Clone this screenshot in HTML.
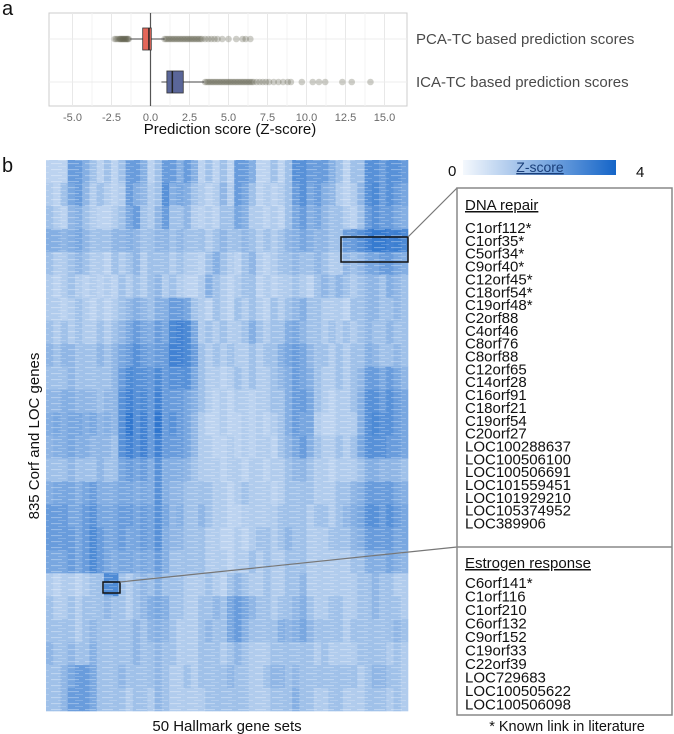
<!DOCTYPE html>
<html><head><meta charset="utf-8"><style>
html,body{margin:0;padding:0;background:#fff;}
svg{display:block;font-family:"Liberation Sans",Arial,sans-serif;}
</style></head><body>
<svg id="fig" width="674" height="734" viewBox="0 0 674 734">
<text x="2" y="15" font-size="20" fill="#111">a</text>
<g id="boxplot"></g>
<text x="2" y="172" font-size="20" fill="#111">b</text>
<g id="heat"></g>
<text x="227" y="731" font-size="15" text-anchor="middle" fill="#111">50 Hallmark gene sets</text>
<text transform="translate(39,436) rotate(-90)" font-size="15" text-anchor="middle" fill="#111">835 Corf and LOC genes</text>
<defs><linearGradient id="cb" x1="0" x2="1"><stop offset="0" stop-color="#f4f8fd"/><stop offset="1" stop-color="#1565c8"/></linearGradient></defs>
<g>
<rect x="463" y="160" width="153" height="15" fill="url(#cb)"/>
<text x="448" y="176" font-size="15" fill="#111">0</text>
<text x="636" y="177" font-size="15" fill="#111">4</text>
<text x="540" y="172" font-size="14" text-anchor="middle" fill="#1a3f7a" text-decoration="underline">Z-score</text>
</g>
<g>
<rect x="457" y="188" width="215" height="527" fill="#fff" stroke="#888" stroke-width="1.5"/>
<line x1="457" y1="547" x2="672" y2="547" stroke="#888" stroke-width="1.5"/>
<g id="lists" font-size="15" fill="#111"></g>
</g>
<text x="567" y="731" font-size="14.5" text-anchor="middle" fill="#111">* Known link in literature</text>
</svg>
<script>
const NS="http://www.w3.org/2000/svg";
function mk(t,a,p){const e=document.createElementNS(NS,t);for(const k in a)e.setAttribute(k,a[k]);p.appendChild(e);return e;}

// ---- Panel a data ----
const xTicks=[-5,-2.5,0,2.5,5,7.5,10,12.5,15];
const seriesNames=["PCA-TC based prediction scores","ICA-TC based prediction scores"];
const boxQ1=[-0.5,1.05];
const boxMed=[-0.1,1.4];
const boxQ3=[0.05,2.1];
const whiskLo=[-1.3,0.7];
const whiskHi=[0.9,3.45];
const pcaOutliers=[-2.3,-2.2,-2.1,-2.0,-1.95,-1.9,-1.85,-1.8,-1.75,-1.7,-1.65,-1.6,-1.55,-1.5,-1.45,-1.4,0.9,1.0,1.1,1.2,1.3,1.4,1.5,1.6,1.7,1.8,1.9,2.0,2.1,2.2,2.3,2.4,2.5,2.6,2.7,2.8,2.9,3.0,3.1,3.2,3.3,3.5,3.7,3.9,4.1,4.3,4.6,5.0,5.5,5.9,6.1,6.4];
const icaOutliers=[3.5,3.6,3.7,3.8,3.9,4.0,4.1,4.2,4.3,4.4,4.5,4.6,4.7,4.8,4.9,5.0,5.1,5.2,5.3,5.4,5.5,5.6,5.7,5.8,5.9,6.0,6.1,6.2,6.3,6.4,6.5,6.6,6.8,7.0,7.2,7.4,7.6,7.9,8.2,8.5,8.8,9.0,9.7,10.4,10.8,11.2,12.3,12.9,14.1];

const px={x0:49,x1:407,y0:13,y1:106};
const xs=v=>150.5+v*15.6;
const rowY=[39,82];
const boxH=[11,11];
const G=document.getElementById('boxplot');
const frame=mk('rect',{x:px.x0,y:px.y0,width:px.x1-px.x0,height:px.y1-px.y0,fill:'#fff',stroke:'#ccc','stroke-width':1},G);


xTicks.forEach((t,i)=>{
  if(i<xTicks.length-1){mk('line',{x1:xs(t+1.25),x2:xs(t+1.25),y1:px.y0,y2:px.y1,stroke:'#f3f3f3'},G);}
  const gl=mk('line',{x1:xs(t),x2:xs(t),y1:px.y0,y2:px.y1,stroke:'#e8e8e8'},G);
  
  
  const tl=mk('text',{x:xs(t),y:121,'font-size':11,'text-anchor':'middle',fill:'#6a6a6a'},G);
  tl.textContent=t.toFixed(1);
  
  
});
rowY.forEach(y=>mk('line',{x1:px.x0,x2:px.x1,y1:y,y2:y,stroke:'#ececec'},G));
const zl=mk('line',{x1:xs(0),x2:xs(0),y1:px.y0,y2:px.y1,stroke:'#555','stroke-width':1.2},G);


const outl=[pcaOutliers,icaOutliers];
const fills=['#e4675a','#5a6699'];
[0,1].forEach(i=>{
  const y=rowY[i];
  outl[i].forEach(v=>{
    const c=mk('circle',{cx:xs(v),cy:y,r:3.3,fill:'#5f5f4c','fill-opacity':0.3},G);
    
    
  });
  const w=mk('line',{x1:xs(whiskLo[i]),x2:xs(whiskHi[i]),y1:y,y2:y,stroke:'#444'},G);
  
  
  const b=mk('rect',{x:xs(boxQ1[i]),y:y-boxH[i],width:xs(boxQ3[i])-xs(boxQ1[i]),height:2*boxH[i],fill:fills[i],stroke:'#333','stroke-width':0.8},G);
  
  
  mk('line',{x1:xs(boxMed[i]),x2:xs(boxMed[i]),y1:y-boxH[i],y2:y+boxH[i],stroke:'#222','stroke-width':1.5},G);
  const lb=mk('text',{x:416,y:y+5,'font-size':15,fill:'#4a4a4a'},G);
  lb.textContent=seriesNames[i];
  
  
});
const at=mk('text',{x:230,y:134,'font-size':15,'text-anchor':'middle',fill:'#111'},G);
at.textContent='Prediction score (Z-score)';



// ---- Heatmap data (row bands x 50 gene sets, Z-score 0-4) ----
const heatRows=[
[1,1,1,2.5,2.5,2,1.5,1,1.5,1,1.5,2.5,2.5,2,1,1.5,2.5,2.5,2,2.5,2,1,1.5,1,1.5,1,2.5,2.5,2,1,1,1.5,1,1.5,2.8,2.8,2.5,2.5,2.5,2,1.5,1,1.5,1.5,2.8,2.8,2.5,2.8,2.8,2.5],
[1.2,1,1.5,2.2,2.5,1.8,1.2,1.5,1.2,1,1.2,2.5,2,1.8,1.2,1.5,2.8,2,2.2,2,1.5,1.2,1,1.2,1.8,1.2,2.5,2.2,1.5,1,1.2,1,1.2,1.5,2.5,2.8,2.2,2.5,2,1.8,1.2,1,1.2,1.8,2.8,3,2.5,2.8,2.5,2.2],
[1.5,1.2,1,1.8,2,1.5,1.2,1,1,1.2,1.5,2.2,2.5,1.5,1.2,1.8,2.5,1.5,1.5,1.8,1.2,1,1.2,1,1.5,1.5,2.2,2,1.2,1.2,1,1.2,1,1.5,2.2,2.5,2,2.2,1.8,1.5,1.5,1.2,1,1.5,2.5,2.8,2.5,2.5,2.2,2],
[2,2,1.8,2,2.2,1.8,1.5,1.5,1.5,1.8,1.8,2,1.8,1.5,1.5,1.8,1.8,1.5,1.8,1.5,1.5,1.5,1.2,1.5,1.8,1.5,1.5,1.8,1.5,1.2,1.5,1.2,1.5,1.8,2,2.2,2,1.8,1.8,1.5,1.5,2.5,2.5,2.8,3.2,3.4,3.4,3.2,3.3,3],
[1.5,1.2,1.2,1.5,1.8,1.5,1.2,1.2,1,1.5,1.2,1.5,1.8,1.2,1.5,1.5,1.5,1.2,1.5,1.2,1.2,1,1.5,2,1.5,1.2,1,1.5,1.8,1.2,1,1.2,1.5,1.5,1.8,1.5,1.5,1.8,1.5,1.2,1.2,1.8,1.5,1.8,2.2,2.2,2.5,2.5,2.2,2],
[1.2,1,1.2,1.5,1.2,1,1.2,1,1.2,1,1.5,1.2,1.5,1.2,1.5,1.8,1.2,1.5,1.2,1,1,1.2,2,1.5,1.2,1,1.2,1.5,1.5,1,1.2,1,1.2,1.2,1.5,1.2,1,1.5,1.8,1.5,1.8,1.5,1.2,1.5,1.8,1.8,1.5,2,1.8,1.5],
[1.2,1.2,1,1.2,1.5,1.2,1,1.2,1,1.2,1.5,1.8,2,1.8,1.5,2,2,2.5,2.5,2.2,1.5,1.2,1,1.5,1.2,1,1.5,1.2,1.5,1.2,1,1.5,1.2,1.5,1.8,2,1.5,1.5,1.2,1.2,1.2,1,1.5,1.5,1.8,1.8,1.5,1.5,1.8,1.5],
[1.5,1.2,1.5,1.2,1.5,1.2,1.2,1.5,1.2,1.5,1.8,2.2,2.5,2.2,2,2.5,2.2,3,3.2,3,2.2,1.2,1.5,1.2,1.5,1.2,1.2,1.5,2,1.5,1.2,1.5,1.5,2,2.2,1.8,1.5,1.5,1.2,1.5,1.2,1.5,1.2,1.5,1.8,1.5,1.5,1.8,1.5,1.5],
[1.8,1.5,1.8,1.8,1.5,1.5,1.5,1.8,1.5,1.8,2.2,2.5,2.8,2.5,2.2,2.5,2.5,3.2,3.2,3,2.5,1.5,1.2,1.5,1.2,1.5,1.2,1.2,1.5,1.2,1.5,1.5,2,2.2,2.5,2.2,1.8,1.5,1.5,1.2,1.5,1.2,1.5,1.5,2,1.8,1.5,1.5,1.8,1.5],
[1.5,1.5,1.5,1.8,1.5,1.5,1.5,1.5,1.5,1.8,2.5,3,2.8,2.8,2.5,3,2.5,2.8,2.8,2.8,2.2,1.5,1.2,1.2,1,1.2,1.5,1.2,1.5,1.2,1.2,1.5,1.8,2,2.5,2.2,2,1.5,1.2,1.2,1.5,1.2,1.5,1.8,2.5,2.5,2.2,2.5,2.2,1.8],
[1.8,1.8,2,2,1.8,1.8,1.8,1.5,1.8,1.8,2.8,3.2,2.8,3,2.5,3.2,2.5,2.5,2.5,2.2,2,1.5,1.2,1,1.2,1,1.2,1.2,1,1.2,1.2,1.5,1.5,2,2.5,2.5,2.2,1.5,1.2,1,1.2,1.2,1.5,2,2.8,2.8,2.5,2.8,2.5,2.2],
[2,2.2,2,2.2,2.2,2,2.2,1.8,2,1.8,2.8,3.5,2.8,3.2,2.5,3.5,2.5,2.8,2.5,2.2,1.8,1.2,1,1,1.2,1,1,1.2,1,1.2,1,1.2,1.5,2,2.5,2.2,2.2,1.2,1,1,1.2,1.2,1.2,2,2.8,3,2.8,2.8,2.5,2.2],
[1.8,2,2,2.2,2,2,1.8,1.8,1.8,1.5,2.8,3.2,2.8,3.2,2.5,3.2,2.5,2.5,2.5,2.2,1.8,1.2,1.2,1,1,1.2,1,1.2,1,1.2,1.2,1,1.5,1.8,2.2,2.5,2,1.5,1.2,1.2,1.5,1.2,1.5,2.2,2.8,2.8,2.8,2.5,2.5,2.2],
[1.5,1.5,1.5,1.8,1.5,1.5,1.5,1.8,1.5,1.5,2.2,2.5,2.2,2.5,2,2.8,2,2,2,1.8,1.5,1.2,1.2,1.2,1,1.2,1.2,1,1.2,1.2,1,1.2,1.2,1.5,1.8,1.8,1.5,1.2,1.2,1,1.2,1.2,1.2,1.5,2,2,1.8,1.8,1.8,1.5],
[2,2.2,2.2,2.2,2,2.2,2.5,2,2,2,2.2,2.2,2,2.2,2,2.8,2,1.8,1.8,1.5,1.5,1.5,1.5,1.2,1.2,1,1.2,1.5,1.2,1.2,1.2,1,1.2,1.5,1.5,1.5,1.5,1.2,1.2,1.2,1.5,1.5,1.8,2,2.5,2.5,2.5,2.5,2.2,2],
[2.5,2.5,2.5,2.2,2.2,2.5,2.8,2.2,2.2,2.2,2.5,2.5,2.2,2.5,2.2,2.8,2.2,1.8,2,1.5,1.5,1.8,1.5,1.2,1.2,1,1,1.2,1.2,1.2,1.2,1.2,1.5,1.5,1.5,1.5,1.2,1.5,1.5,1.2,1.5,1.8,2,2.2,2.8,2.8,2.5,2.8,2.5,2.2],
[2.5,2.5,2.5,2.5,2.2,2.5,3,2.5,2.2,2.2,2.5,2.2,2.2,2.5,2.2,2.8,2,1.8,1.8,1.5,1.5,1.5,1.2,1.2,1,1,1.2,1,1.2,1.5,1.5,1.2,1.5,1.8,1.5,1.5,1.2,1.2,1.2,1.5,1.5,1.5,1.8,2,2.5,2.5,2.5,2.5,2.2,2.2],
[2.2,2.2,2.2,2.5,2.2,2.5,3,2.5,2.2,2,2.2,2.2,2,2.2,2,2.5,2,1.5,1.5,1.5,1.5,1.5,1.2,1.2,1.2,1,1.2,1.2,1.5,1.2,1.5,1.2,1.2,1.5,1.5,1.5,1.2,1.2,1.2,1.2,1.2,1.2,1.5,1.5,2,2,2,2.2,2,1.8],
[1.2,1,1.2,1.2,1,1.2,1.5,1.5,3,3,1.5,1.2,1.5,1.8,1.5,2,1.5,1.5,1.5,1.2,1.2,1.2,1.5,1.2,1,1.5,1.8,1.5,1.2,1.2,1.5,1.2,1.2,1.5,1.5,1.8,1.2,1.2,1.2,1.2,1.2,1.2,1.2,1.5,1.5,1.8,1.5,1.5,1.2,1.2],
[1.5,1.2,1.2,1.5,1.2,1.5,1.5,1.5,1.8,1.5,1.5,1.2,1.5,1.8,2,2.2,2,1.5,1.5,1.2,1.2,1.5,1.5,1.8,1.5,2.2,2.5,2.2,1.8,1.5,1.5,1.2,1.5,1.5,1.8,2,1.5,1.2,1.2,1.5,1.5,1.2,1.2,1.5,1.5,1.8,1.5,1.5,1.5,1.2],
[1.5,1.5,1.5,1.5,1.2,1.5,1.8,1.5,1.5,1.5,1.5,1.5,1.8,1.5,1.8,2,1.8,1.5,1.2,1.2,1.2,1.5,1.8,1.5,1.5,2.2,2.5,2,1.5,1.5,1.5,1.5,2,1.8,2,2.2,1.8,1.5,1.5,1.5,1.5,1.2,1.5,1.5,1.5,1.5,1.5,1.5,1.8,1.5],
[1.8,1.5,1.5,1.8,1.5,1.5,2,1.5,1.5,1.5,1.5,1.5,1.8,1.5,1.5,1.8,1.5,1.5,1.2,1.2,1.2,1.5,1.5,1.5,1.2,1.5,1.8,1.5,1.2,1.2,1.2,1.5,1.5,1.5,1.5,1.5,1.5,1.2,1.5,1.2,1.2,1.2,1.2,1.5,1.5,1.5,1.5,1.2,1.5,1.2],
[1.5,1.5,1.8,2.2,2.5,2.5,2.2,1.5,1.5,1.5,1.8,1.5,1.5,1.5,1.5,1.8,1.5,1.2,1.2,1.5,1.2,1.5,1.5,1.5,1.5,1.8,1.5,1.5,1.2,1.2,1.5,1.8,1.8,1.5,1.8,1.5,1.5,1.5,1.5,1.5,1.5,1.5,1.5,1.2,1.5,1.8,1.8,1.5,1.5,1.2],
[1.5,1.5,1.8,2.5,2.5,2.5,2.2,1.5,1.5,1.5,1.5,1.2,1.5,1.5,1.2,1.8,1.5,1.2,1.2,1.2,1.2,1.2,1.5,1.5,1.5,1.5,1.5,1.5,1.2,1.2,1.2,1.5,1.5,1.5,2,1.5,1.5,1.2,1.2,1.5,1.5,1.2,1.2,1.2,1.5,1.5,1.5,1.2,1.5,1.2]
];
const zMin=0, zMax=4;
const hm={x0:46,x1:408,y0:160,y1:711};
const nCols=heatRows[0].length, nRows=heatRows.length;
const cx=j=>hm.x0+j*(hm.x1-hm.x0)/nCols;
const cy=i=>hm.y0+i*(hm.y1-hm.y0)/nRows;
function col(v){const t=Math.max(0,Math.min(1,(v-zMin)/(zMax-zMin)));
  const a=[244,248,253],b=[21,101,200];
  return 'rgb('+a.map((c,k)=>Math.round(c+(b[k]-c)*t)).join(',')+')';}
const H=document.getElementById('heat');
heatRows.forEach((row,i)=>row.forEach((v,j)=>{
  const r=mk('rect',{x:cx(j).toFixed(2),y:cy(i).toFixed(2),width:((hm.x1-hm.x0)/nCols+0.3).toFixed(2),height:((hm.y1-hm.y0)/nRows+0.3).toFixed(2),fill:col(v)},H);
  
  
}));
const defs=document.querySelector('defs');
const pat=mk('pattern',{id:'streak',width:17,height:6,patternUnits:'userSpaceOnUse'},defs);
mk('rect',{x:0,y:1,width:11,height:1.1,fill:'#fff','fill-opacity':0.3},pat);
mk('rect',{x:7,y:4,width:8,height:0.9,fill:'#fff','fill-opacity':0.2},pat);
const tex=mk('rect',{x:hm.x0,y:hm.y0,width:hm.x1-hm.x0,height:hm.y1-hm.y0,fill:'url(#streak)'},H);



const dna=mk('rect',{x:341,y:237,width:67,height:25,fill:'none',stroke:'#111','stroke-width':1.5},H);


const est=mk('rect',{x:103,y:582,width:17,height:11,fill:'none',stroke:'#111','stroke-width':1.5},H);


mk('line',{x1:408,y1:237,x2:457,y2:188,stroke:'#777','stroke-width':1.2},H);
mk('line',{x1:120,y1:582,x2:457,y2:547,stroke:'#777','stroke-width':1.2},H);

const dnaGenes=["C1orf112*","C1orf35*","C5orf34*","C9orf40*","C12orf45*","C18orf54*","C19orf48*","C2orf88","C4orf46","C8orf76","C8orf88","C12orf65","C14orf28","C16orf91","C18orf21","C19orf54","C20orf27","LOC100288637","LOC100506100","LOC100506691","LOC101559451","LOC101929210","LOC105374952","LOC389906"];
const estGenes=["C6orf141*","C1orf116","C1orf210","C6orf132","C9orf152","C19orf33","C22orf39","LOC729683","LOC100505622","LOC100506098"];
const L=document.getElementById('lists');
function hdr(t,y){const e=mk('text',{x:465,y:y,'text-decoration':'underline'},L);e.textContent=t;
  
  }
hdr('DNA repair',210);
dnaGenes.forEach((g,i)=>{const e=mk('text',{x:465,y:233+i*12.85},L);e.textContent=g;
  
  });
hdr('Estrogen response',568);
estGenes.forEach((g,i)=>{const e=mk('text',{x:465,y:588+i*13.5},L);e.textContent=g;
  
  });
</script>
</body></html>
